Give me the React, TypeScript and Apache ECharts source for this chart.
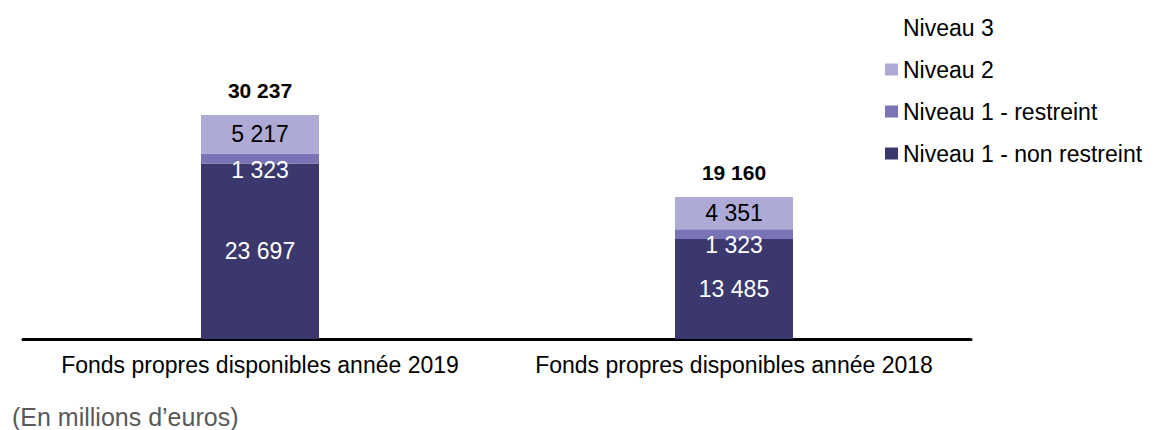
import React, { useEffect, useRef } from "react";
import * as echarts from "echarts";

const categories = ["Fonds propres disponibles année 2019", "Fonds propres disponibles année 2018"];
const niveau1NonRestreint = [23697, 13485];
const niveau1Restreint = [1323, 1323];
const niveau2 = [5217, 4351];
const niveau3 = [0, 0];
const totals = [30237, 19160];
const subtitle = "(En millions d’euros)";

const fmt = (v: number) => String(v).replace(/\B(?=(\d{3})+(?!\d))/g, " ");
const FONT = "'Liberation Sans', Arial, sans-serif";

export default function App() {
  const ref = useRef<HTMLDivElement>(null);
  useEffect(() => {
    document.body.style.margin = "0";
    const chart = echarts.init(ref.current!, null, { renderer: "svg" });
    chart.setOption({
      animation: false,
      backgroundColor: "#ffffff",
      textStyle: { fontFamily: FONT },
      title: {
        text: subtitle,
        left: 12,
        top: 404,
        padding: 0,
        textStyle: { fontSize: 25, fontWeight: "normal", color: "#595959", fontFamily: FONT },
      },
      legend: {
        orient: "vertical",
        left: 885,
        top: 16,
        padding: 0,
        itemWidth: 13,
        itemHeight: 12,
        itemGap: 19,
        icon: "rect",
        data: ["Niveau 3", "Niveau 2", "Niveau 1 - restreint", "Niveau 1 - non restreint"],
        textStyle: { fontSize: 23, lineHeight: 23, color: "#000", fontFamily: FONT, padding: [0, 0, 0, 0] },
        selectedMode: false,
      },
      grid: { left: 23, right: 184, top: 42.6, bottom: 91, containLabel: false },
      xAxis: {
        type: "category",
        data: categories,
        axisLine: { show: true, lineStyle: { color: "#000", width: 3 } },
        axisTick: { show: false },
        axisLabel: { fontSize: 23, color: "#000", margin: 14, fontFamily: FONT, interval: 0 },
      },
      yAxis: { type: "value", min: 0, max: 40000, show: false, splitLine: { show: false } },
      series: [
        {
          name: "Niveau 1 - non restreint",
          type: "bar",
          stack: "s",
          barWidth: 118,
          data: niveau1NonRestreint,
          itemStyle: { color: "#3a386d" },
          label: { show: true, position: "inside", color: "#fff", fontSize: 23, fontFamily: FONT, formatter: (p: any) => fmt(p.value) },
        },
        {
          name: "Niveau 1 - restreint",
          type: "bar",
          stack: "s",
          barWidth: 118,
          data: niveau1Restreint,
          itemStyle: { color: "#7874b6" },
          label: { show: true, position: "inside", offset: [0, 11], color: "#fff", fontSize: 23, fontFamily: FONT, formatter: (p: any) => fmt(p.value) },
        },
        {
          name: "Niveau 2",
          type: "bar",
          stack: "s",
          barWidth: 118,
          data: niveau2,
          itemStyle: { color: "#adabd6" },
          label: { show: true, position: "inside", color: "#000", fontSize: 23, fontFamily: FONT, formatter: (p: any) => fmt(p.value) },
        },
        {
          name: "Niveau 3",
          type: "bar",
          stack: "s",
          barWidth: 118,
          data: niveau3,
          itemStyle: { color: "#ffffff" },
          label: {
            show: true,
            position: "top",
            distance: 14,
            color: "#000",
            fontSize: 21,
            fontWeight: "bold",
            fontFamily: FONT,
            formatter: (p: any) => fmt(totals[p.dataIndex]),
          },
        },
      ],
    });
    return () => chart.dispose();
  }, []);
  return <div ref={ref} style={{ width: 1155, height: 430 }} />;
}
